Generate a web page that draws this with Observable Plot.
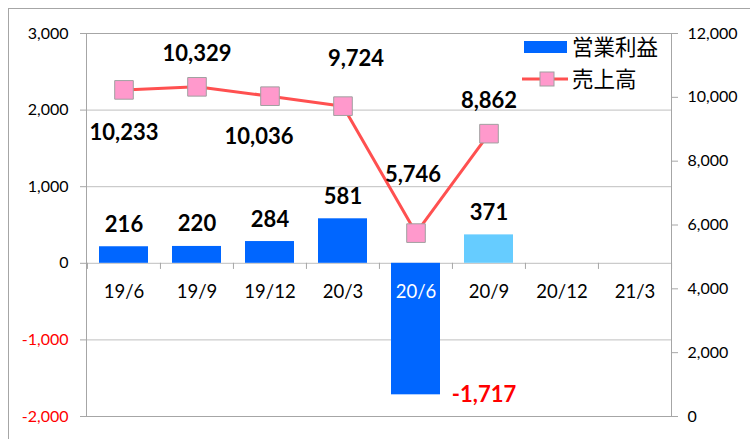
<!DOCTYPE html>
<html>
<head>
<meta charset="utf-8">
<script src="https://cdn.jsdelivr.net/npm/d3@7"></script>
<script src="https://cdn.jsdelivr.net/npm/@observablehq/plot@0.6"></script>
<style>
  html, body { margin: 0; padding: 0; background: #fff; overflow: hidden; }
  #wrap { position: relative; width: 750px; height: 439px; }
  #border { position: absolute; left: 8px; top: 8px; width: 760px; height: 460px;
            border-left: 1px solid #a6a6a6; border-top: 1px solid #a6a6a6; box-sizing: border-box; pointer-events: none; }
</style>
</head>
<body>
<div id="wrap"><div id="border"></div></div>
<script>
// ---- data ----
const categories = ["19/6", "19/9", "19/12", "20/3", "20/6", "20/9", "20/12", "21/3"];
const profit = [216, 220, 284, 581, -1717, 371, null, null];   // 営業利益 (left axis)
const sales = [10233, 10329, 10036, 9724, 5746, 8862, null, null]; // 売上高 (right axis)
const leftTicks = [-2000, -1000, 0, 1000, 2000, 3000];
const rightTicks = [0, 2000, 4000, 6000, 8000, 10000, 12000];
const seriesNames = ["営業利益", "売上高"];

// ---- helpers ----
const W = 750, H = 439;
const mL = 86, mR = 79, mT = 33, mB = 23;
const step = (W - mL - mR) / categories.length;
const leftMin = -2000, leftMax = 3000, rightMax = 12000;
const toLeft = s => s / rightMax * (leftMax - leftMin) + leftMin;
const fromLeft = v => (v - leftMin) / (leftMax - leftMin) * rightMax;
const fmt = d3.formatLocale({decimal: ".", thousands: ",", grouping: [3], currency: ["", ""], minus: "-"}).format(",");

const rows = categories.map((c, i) => ({cat: c, profit: profit[i], sales: sales[i]}));
const barRows = rows.filter(d => d.profit != null);
const lineRows = rows.filter(d => d.sales != null);

const BLUE = "#0066ff", LIGHT = "#66ccff", RED = "#ff5050", PINK = "#ff99cc", GRAY = "#a6a6a6";
const numFont = "Lato, 'Open Sans', sans-serif";
const LBL = 22;

// label offsets for sales values (placement only)
const salesLabelOffset = {
  "19/6": [0, 43], "19/9": [0, -33], "19/12": [-11, 41],
  "20/3": [13, -47], "20/6": [-3, -58], "20/9": [0, -33]
};

const salesLabelMarks = lineRows.map(d => Plot.text([d], {
  x: "cat", y: r => toLeft(r.sales), text: r => fmt(r.sales),
  dx: salesLabelOffset[d.cat][0], dy: salesLabelOffset[d.cat][1],
  fontSize: LBL, fontWeight: "bold", fill: "black", fontFamily: numFont
}));

const chart = Plot.plot({
  width: W, height: H,
  marginLeft: mL, marginRight: mR, marginTop: mT, marginBottom: mB,
  style: {fontFamily: numFont, background: "white"},
  x: {type: "band", domain: categories, paddingInner: 0.33, paddingOuter: 0.165, axis: null},
  y: {domain: [leftMin, leftMax], axis: null, label: null},
  color: {type: "identity"},
  marks: [
    Plot.ruleY(leftTicks, {stroke: "#bfbfbf", strokeWidth: 1}),
    Plot.frame({stroke: GRAY}),
    // category boundary ticks below the zero line
    Plot.ruleX(categories, {x: d => d, dx: -step / 2, y1: 0, y2: -80, stroke: GRAY}),
    Plot.ruleX([categories[categories.length - 1]], {x: d => d, dx: step / 2, y1: 0, y2: -80, stroke: GRAY}),
    // left axis
    Plot.axisY(leftTicks.filter(v => v >= 0), {anchor: "left", tickSize: 6, tickPadding: 12, stroke: GRAY, fill: "black",
      fontSize: 16, tickFormat: fmt, label: null}),
    Plot.axisY(leftTicks.filter(v => v < 0), {anchor: "left", tickSize: 6, tickPadding: 12, stroke: GRAY, fill: "#ff0000",
      fontSize: 16, tickFormat: fmt, label: null}),
    // right axis
    Plot.axisY(rightTicks.map(toLeft), {anchor: "right", tickSize: 6, tickPadding: 10, stroke: GRAY, fill: "black",
      fontSize: 16, tickFormat: v => fmt(Math.round(fromLeft(v))), label: null}),
    // bars
    Plot.barY(barRows, {x: "cat", y: "profit", fill: d => d.cat === "20/9" ? LIGHT : BLUE}),
    // category labels
    Plot.text(categories, {x: d => d, y: 0, dy: 29, fontSize: 18.5, fill: d => d === "20/6" ? "white" : "black"}),
    // bar labels
    Plot.text(barRows.filter(d => d.profit >= 0), {x: "cat", y: "profit", text: d => fmt(d.profit), dy: -22,
      fontSize: LBL, fontWeight: "bold", fill: "black"}),
    Plot.text(barRows.filter(d => d.profit < 0), {x: "cat", y: "profit", text: d => fmt(d.profit), dx: 68, dy: 0,
      fontSize: LBL, fontWeight: "bold", fill: "#ff0000"}),
    // sales line
    Plot.line(lineRows, {x: "cat", y: d => toLeft(d.sales), stroke: RED, strokeWidth: 3}),
    Plot.dot(lineRows, {x: "cat", y: d => toLeft(d.sales), symbol: "square", r: 10.5, fill: PINK, stroke: "#a0a0a0", strokeWidth: 1}),
    ...salesLabelMarks
  ]
});

document.getElementById("wrap").appendChild(chart);

// legend (inside plot, top right)
const svg = d3.select(chart);
const lg = svg.append("g")
  .attr("font-family", "'Noto Sans CJK JP', sans-serif")
  .attr("font-size", 21)
  .attr("text-anchor", "start");
lg.append("rect").attr("x", 524).attr("y", 41).attr("width", 43).attr("height", 12).attr("fill", BLUE);
lg.append("text").attr("x", 572).attr("y", 47).attr("dy", "0.35em")
  .style("font-size", "21.5px").style("text-anchor", "start").attr("fill", "black").text(seriesNames[0]);
lg.append("line").attr("x1", 522).attr("x2", 568).attr("y1", 79).attr("y2", 79).attr("stroke", RED).attr("stroke-width", 3);
lg.append("rect").attr("x", 540).attr("y", 72).attr("width", 14).attr("height", 14).attr("fill", PINK).attr("stroke", "#a0a0a0");
lg.append("text").attr("x", 572).attr("y", 79).attr("dy", "0.35em")
  .style("font-size", "21.5px").style("text-anchor", "start").attr("fill", "black").text(seriesNames[1]);
</script>
</body>
</html>
